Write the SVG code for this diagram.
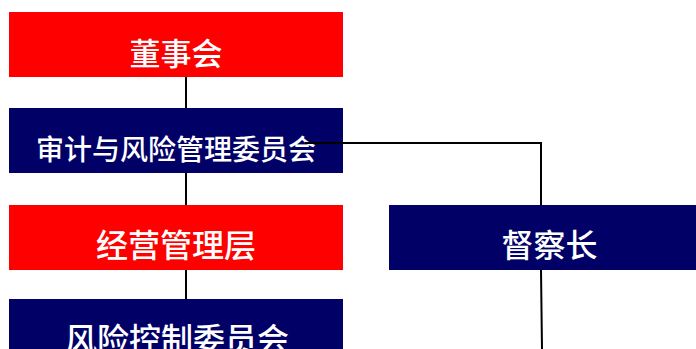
<svg xmlns="http://www.w3.org/2000/svg" width="696" height="349" viewBox="0 0 696 349">
<style>
.red{fill:#FF0000}
.navy{fill:#000066}
.t{fill:#FFFFFF;font-family:"Noto Sans CJK SC","Noto Sans",sans-serif;text-anchor:middle;font-weight:500}
.c{stroke:#000000;stroke-width:2;fill:none}
</style>
<rect width="696" height="349" fill="#FFFFFF"/>
<g id="board">
<rect class="red" x="9" y="12" width="334" height="65"/>
<text class="t" x="176" y="65" font-size="31">董事会</text>
</g>
<g id="audit-risk-committee">
<rect class="navy" x="9" y="108" width="334" height="65"/>
<text class="t" x="176" y="160" font-size="28">审计与风险管理委员会</text>
</g>
<g id="management">
<rect class="red" x="9" y="205" width="334" height="65"/>
<text class="t" x="176" y="257" font-size="32">经营管理层</text>
</g>
<g id="risk-control-committee">
<rect class="navy" x="9" y="299" width="334" height="60"/>
<text class="t" x="177" y="351" font-size="32">风险控制委员会</text>
</g>
<g id="chief-supervisor">
<rect class="navy" x="389" y="205" width="307" height="65"/>
<text class="t" x="549.5" y="257" font-size="32">督察长</text>
</g>
<g id="connectors">
<line class="c" x1="186" y1="77" x2="186" y2="108"/>
<line class="c" x1="186" y1="173" x2="186" y2="205"/>
<line class="c" x1="186" y1="270" x2="186" y2="299"/>
<polyline class="c" points="305,143 541,143 541,205"/>
<line class="c" x1="541" y1="270" x2="542" y2="349"/>
</g>
</svg>
